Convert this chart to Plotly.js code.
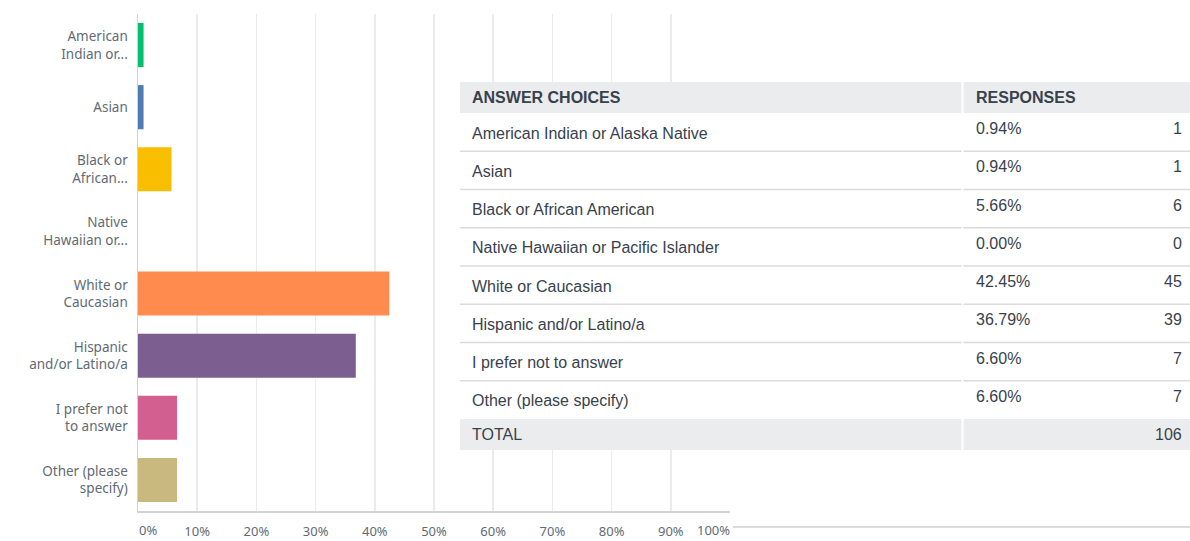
<!DOCTYPE html>
<html>
<head>
<meta charset="utf-8">
<script src="https://cdn.plot.ly/plotly-3.0.1.min.js"></script>
<style>
  html, body { margin: 0; padding: 0; background: #ffffff; }
  #chart { width: 1190px; height: 541px; }
</style>
</head>
<body>
<div id="chart"></div>
<script>
// ---- DATA ----
const axisLabels = [
  "American<br>Indian or...",
  "Asian",
  "Black or<br>African...",
  "Native<br>Hawaiian or...",
  "White or<br>Caucasian",
  "Hispanic<br>and/or Latino/a",
  "I prefer not<br>to answer",
  "Other (please<br>specify)"
];
const answerChoices = [
  "American Indian or Alaska Native",
  "Asian",
  "Black or African American",
  "Native Hawaiian or Pacific Islander",
  "White or Caucasian",
  "Hispanic and/or Latino/a",
  "I prefer not to answer",
  "Other (please specify)"
];
const percents = [0.94, 0.94, 5.66, 0.00, 42.45, 36.79, 6.60, 6.60];
const counts = [1, 1, 6, 0, 45, 39, 7, 7];
const xTickVals = [0, 10, 20, 30, 40, 50, 60, 70, 80, 90, 100];

// ---- STYLE ----
const barColors = ["#00bf6f", "#507cb6", "#f9be00", "#6bc8cd", "#ff8b4f", "#7d5e90", "#d25f90", "#c9b97f"];
const axisFont = { family: "Noto Sans, sans-serif", size: 13.5, color: "#5f6b74" };
const xTickFont = { family: "Noto Sans, sans-serif", size: 13, color: "#5f6b74" };
const tableFont = { family: "Liberation Sans, Arial, sans-serif", size: 16, color: "#38424c" };

// plot area in pixels
const W = 1190, H = 541;
const L = 138, R = 730, T = 14, B = 511;
const px = x => (x - L) / (R - L);
const py = y => (B - y) / (B - T);

const trace = {
  type: "bar",
  orientation: "h",
  x: percents,
  y: axisLabels,
  marker: { color: barColors },
  hoverinfo: "skip",
  cliponaxis: false
};

const shapes = [];
const annotations = [];

// x tick labels at ends (shifted inward like the reference)
const midTicks = xTickVals.slice(1, -1);
annotations.push({
  x: xTickVals[0], xref: "x", y: py(529.5), yref: "paper",
  text: xTickVals[0] + "%", xanchor: "left", yanchor: "middle",
  showarrow: false, font: xTickFont, xshift: -1
});
annotations.push({
  x: xTickVals[xTickVals.length - 1], xref: "x", y: py(529.5), yref: "paper",
  text: xTickVals[xTickVals.length - 1] + "%", xanchor: "right", yanchor: "middle",
  showarrow: false, font: xTickFont, xshift: 2
});

// bottom-right separator line
shapes.push({
  type: "line", xref: "paper", yref: "paper",
  x0: px(733), x1: px(1190), y0: py(527), y1: py(527),
  line: { color: "#cfcfcf", width: 1.5 }
});

// ---- TABLE ----
const tL = 460, tR = 1190, colX = 962.5;
const headTop = 82, headBot = 113, rowH = 38.25;
const nRows = answerChoices.length;
const totalTop = headBot + nRows * rowH;
const totalBot = totalTop + 31;
const padX = -2;

shapes.push({
  type: "rect", xref: "paper", yref: "paper",
  x0: px(tL), x1: px(tR), y0: py(totalBot), y1: py(headTop),
  fillcolor: "#ffffff", line: { width: 0 }, layer: "above"
});
shapes.push({
  type: "rect", xref: "paper", yref: "paper",
  x0: px(tL), x1: px(tR), y0: py(headBot), y1: py(headTop),
  fillcolor: "#ebeced", line: { width: 0 }, layer: "above"
});
shapes.push({
  type: "rect", xref: "paper", yref: "paper",
  x0: px(tL), x1: px(tR), y0: py(totalBot), y1: py(totalTop),
  fillcolor: "#ebeced", line: { width: 0 }, layer: "above"
});
for (let i = 1; i < nRows; i++) {
  const yy = headBot + i * rowH;
  shapes.push({
    type: "line", xref: "paper", yref: "paper",
    x0: px(tL), x1: px(tR), y0: py(yy), y1: py(yy),
    line: { color: "#d9dbdc", width: 1.5 }, layer: "above"
  });
}
shapes.push({
  type: "line", xref: "paper", yref: "paper",
  x0: px(colX), x1: px(colX), y0: py(headTop), y1: py(totalBot),
  line: { color: "#ffffff", width: 2 }, layer: "above"
});

annotations.push({
  x: px(472), xref: "paper", y: py((headTop + headBot) / 2), yref: "paper",
  text: "<b>ANSWER CHOICES</b>", xanchor: "left", yanchor: "middle",
  showarrow: false, font: tableFont, xshift: padX
});
annotations.push({
  x: px(976), xref: "paper", y: py((headTop + headBot) / 2), yref: "paper",
  text: "<b>RESPONSES</b>", xanchor: "left", yanchor: "middle",
  showarrow: false, font: tableFont, xshift: padX
});

for (let i = 0; i < nRows; i++) {
  const cy = headBot + i * rowH + rowH / 2;
  annotations.push({
    x: px(472), xref: "paper", y: py(cy + 1), yref: "paper",
    text: answerChoices[i], xanchor: "left", yanchor: "middle",
    showarrow: false, font: tableFont, xshift: padX
  });
  annotations.push({
    x: px(976), xref: "paper", y: py(cy - 3.5), yref: "paper",
    text: percents[i].toFixed(2) + "%", xanchor: "left", yanchor: "middle",
    showarrow: false, font: tableFont, xshift: padX
  });
  annotations.push({
    x: px(1182), xref: "paper", y: py(cy - 3.5), yref: "paper",
    text: String(counts[i]), xanchor: "right", yanchor: "middle",
    showarrow: false, font: tableFont, xshift: -padX
  });
}
const total = counts.reduce((a, b) => a + b, 0);
annotations.push({
  x: px(472), xref: "paper", y: py((totalTop + totalBot) / 2), yref: "paper",
  text: "TOTAL", xanchor: "left", yanchor: "middle",
  showarrow: false, font: tableFont, xshift: padX
});
annotations.push({
  x: px(1182), xref: "paper", y: py((totalTop + totalBot) / 2), yref: "paper",
  text: String(total), xanchor: "right", yanchor: "middle",
  showarrow: false, font: tableFont, xshift: -padX
});

const layout = {
  width: W, height: H,
  margin: { l: L, r: W - R, t: T, b: H - B, pad: 0 },
  paper_bgcolor: "#ffffff",
  plot_bgcolor: "#ffffff",
  showlegend: false,
  bargap: 0.29,
  xaxis: {
    range: [0, 100],
    tickmode: "array",
    tickvals: midTicks,
    ticktext: midTicks.map(v => v + "%"),
    showgrid: true,
    gridcolor: "#ebebeb",
    gridwidth: 1.5,
    zeroline: false,
    showline: true,
    linecolor: "#d3d3d3",
    linewidth: 1.5,
    ticks: "",
    tickfont: xTickFont,
    ticklabelstandoff: 8,
    automargin: false,
    fixedrange: true
  },
  yaxis: {
    autorange: "reversed",
    showgrid: false,
    zeroline: false,
    showline: true,
    linecolor: "#d3d3d3",
    linewidth: 1.5,
    ticks: "",
    tickfont: axisFont,
    ticklabelstandoff: 6,
    automargin: false,
    fixedrange: true
  },
  shapes: shapes,
  annotations: annotations
};

Plotly.newPlot("chart", [trace], layout, { displayModeBar: false, staticPlot: true });
</script>
</body>
</html>
